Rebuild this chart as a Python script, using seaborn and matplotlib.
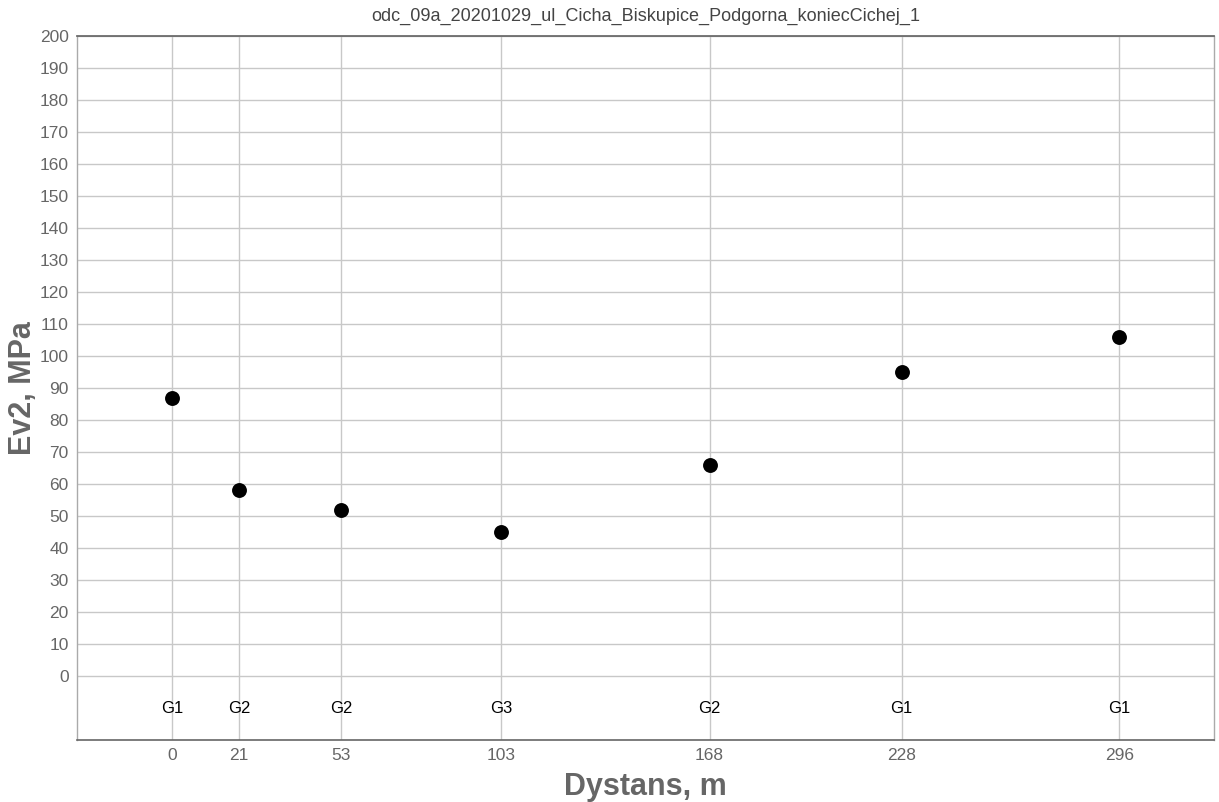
import matplotlib
matplotlib.use("Agg")
import matplotlib.pyplot as plt
import seaborn as sns
import pandas as pd

title = "odc_09a_20201029_ul_Cicha_Biskupice_Podgorna_koniecCichej_1"
distance = [0, 21, 53, 103, 168, 228, 296]
ev2 = [87, 58, 52, 45, 66, 95, 106]
soil = ["G1", "G2", "G2", "G3", "G2", "G1", "G1"]
y_ticks = list(range(0, 201, 10))

df = pd.DataFrame({"dist": distance, "ev2": ev2, "soil": soil})

sns.set_theme(style="whitegrid")
plt.rcParams["font.family"] = ["Liberation Sans", "DejaVu Sans"]

fig = plt.figure(figsize=(12.19, 8.02), dpi=100)
ax = fig.add_axes([0.0632, 0.0773, 0.9327, 0.8778])

sns.scatterplot(data=df, x="dist", y="ev2", ax=ax, color="black", s=115,
                edgecolor="black", linewidth=0, zorder=3)

for d, s in zip(distance, soil):
    ax.text(d, -10, s, ha="center", va="center", fontsize=12, color="black")

ax.set_xlim(-29.6, 325.6)
ax.set_ylim(-20, 200)
ax.set_xticks(distance)
ax.set_xticklabels([str(d) for d in distance])
ax.set_yticks(y_ticks)
ax.tick_params(axis="both", labelsize=12.5, labelcolor="#666666", length=0, pad=6)

ax.grid(True, color="#c8c8c8", linewidth=1)
for side in ["left", "right"]:
    ax.spines[side].set_color("#aaaaaa")
    ax.spines[side].set_linewidth(1)
ax.spines["bottom"].set_color("#666666")
ax.spines["top"].set_color("#666666")
ax.spines["bottom"].set_linewidth(1.2)

ax.set_xlabel("Dystans, m", fontsize=22, fontweight="bold", color="#666666", labelpad=6)
ax.set_ylabel("Ev2, MPa", fontsize=22, fontweight="bold", color="#666666", labelpad=1)
ax.set_title(title, fontsize=13, color="#444444", pad=11)

fig.savefig("out.png", dpi=100)
